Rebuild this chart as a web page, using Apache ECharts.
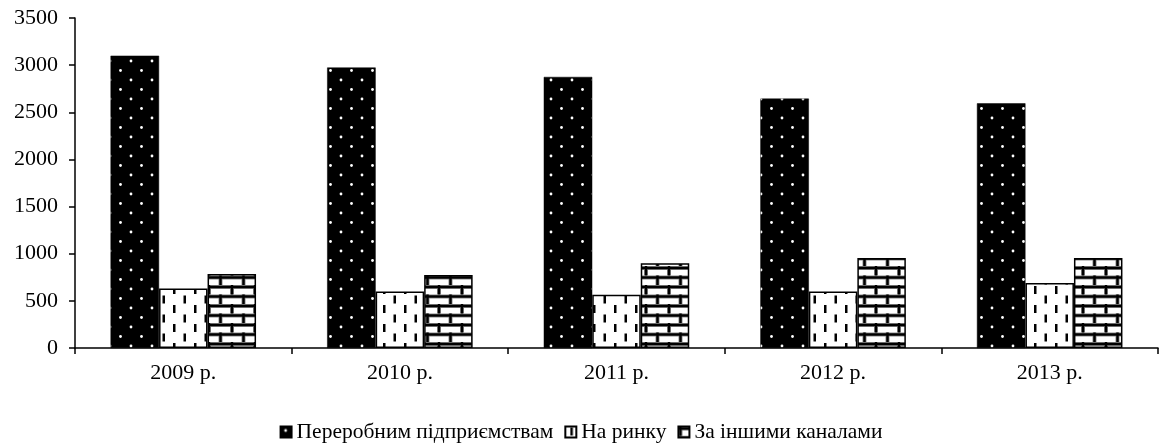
<!DOCTYPE html>
<html>
<head>
<meta charset="utf-8">
<script src="https://cdn.jsdelivr.net/npm/echarts@6/dist/echarts.min.js"></script>
<style>
html,body{margin:0;padding:0;background:#fff;}
#chart{width:1162px;height:445px;}
</style>
</head>
<body>
<div id="chart"></div>
<script>
const categories = ['2009 р.', '2010 р.', '2011 р.', '2012 р.', '2013 р.'];
const seriesNames = ['Переробним підприємствам', 'На ринку', 'За іншими каналами'];
const processing = [3100, 2975, 2875, 2645, 2595];
const market = [630, 600, 565, 600, 690];
const otherChannels = [785, 775, 900, 955, 955];

function makeCanvas(w, h) {
  const c = document.createElement('canvas');
  c.width = w; c.height = h;
  return c;
}
function dotsPattern() {
  const c = makeCanvas(21, 19), g = c.getContext('2d');
  g.fillStyle = '#000'; g.fillRect(0, 0, 21, 19);
  g.fillStyle = '#ffffff';
  g.beginPath(); g.arc(5, 4, 1.4, 0, Math.PI * 2); g.fill();
  g.beginPath(); g.arc(15.5, 13.5, 1.4, 0, Math.PI * 2); g.fill();
  return c;
}
function dashPattern() {
  const c = makeCanvas(21, 19), g = c.getContext('2d');
  g.fillStyle = '#fff'; g.fillRect(0, 0, 21, 19);
  g.fillStyle = '#000';
  g.fillRect(5, 1, 2.5, 8);
  g.fillRect(15.5, 10.5, 2.5, 8);
  return c;
}
function brickPattern() {
  const c = makeCanvas(23, 19), g = c.getContext('2d');
  g.fillStyle = '#fff'; g.fillRect(0, 0, 23, 19);
  g.fillStyle = '#888';
  g.fillRect(0, 0, 23, 4);
  g.fillRect(0, 9.5, 23, 4);
  g.fillRect(0, 0, 4, 9.5);
  g.fillRect(11.5, 9.5, 4, 9.5);
  g.fillStyle = '#000';
  g.fillRect(0, 0.8, 23, 2.4);
  g.fillRect(0, 10.3, 23, 2.4);
  g.fillRect(0.8, 0, 2.4, 9.5);
  g.fillRect(12.3, 9.5, 2.4, 9.5);
  return c;
}

const font = "'Liberation Serif', 'Times New Roman', serif";
const chart = echarts.init(document.getElementById('chart'));
chart.setOption({
  animation: false,
  backgroundColor: '#fff',
  grid: { left: 75, right: 4, top: 18, bottom: 97 },
  legend: {
    top: 416,
    left: 'center',
    icon: 'rect',
    itemWidth: 11,
    itemHeight: 11,
    itemGap: 11,
    textStyle: { fontFamily: font, fontSize: 21.5, color: '#000' },
    data: seriesNames
  },
  xAxis: {
    type: 'category',
    data: categories,
    axisLine: { lineStyle: { color: '#000', width: 1.5 } },
    axisTick: { show: true, length: 6, lineStyle: { color: '#000', width: 1.5 } },
    axisLabel: { fontFamily: font, fontSize: 22, color: '#000', margin: 14 }
  },
  yAxis: {
    type: 'value',
    min: 0, max: 3500, interval: 500,
    axisLine: { show: true, lineStyle: { color: '#000', width: 1.5 } },
    axisTick: { show: true, length: 6, lineStyle: { color: '#000', width: 1.5 } },
    splitLine: { show: false },
    axisLabel: { fontFamily: font, fontSize: 22, color: '#000', margin: 17, formatter: v => String(v) }
  },
  series: [
    {
      name: seriesNames[0], type: 'bar', data: processing,
      barWidth: 48.5, barGap: '0%',
      itemStyle: { color: { image: dotsPattern(), repeat: 'repeat' }, borderColor: '#000', borderWidth: 0.5 }
    },
    {
      name: seriesNames[1], type: 'bar', data: market,
      barWidth: 48.5, barGap: '0%',
      itemStyle: { color: { image: dashPattern(), repeat: 'repeat' }, borderColor: '#000', borderWidth: 1.5 }
    },
    {
      name: seriesNames[2], type: 'bar', data: otherChannels,
      barWidth: 48.5, barGap: '0%',
      itemStyle: { color: { image: brickPattern(), repeat: 'repeat' }, borderColor: '#000', borderWidth: 1.5 }
    }
  ]
});
</script>
</body>
</html>
